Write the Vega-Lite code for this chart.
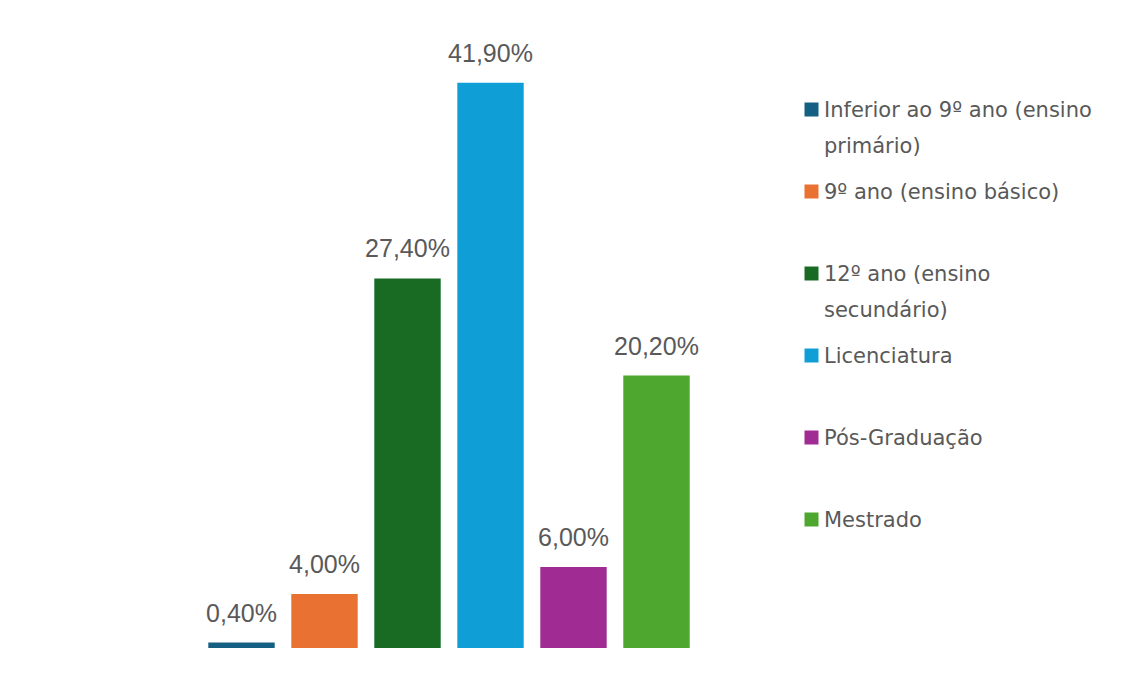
{
  "$schema": "https://vega.github.io/schema/vega-lite/v6.json",
  "width": 498,
  "height": 607,
  "padding": {"left": 200, "top": 41, "right": 0, "bottom": 0},
  "autosize": {"type": "pad"},
  "background": "white",
  "config": {
    "view": {"stroke": null},
    "locale": {"number": {"decimal": ",", "thousands": ".", "grouping": [3], "currency": ["", " €"]}}
  },
  "data": {
    "values": [
      {"nivel": "Inferior ao 9º ano (ensino primário)", "valor": 0.004},
      {"nivel": "9º ano (ensino básico)", "valor": 0.04},
      {"nivel": "12º ano (ensino secundário)", "valor": 0.274},
      {"nivel": "Licenciatura", "valor": 0.419},
      {"nivel": "Pós-Graduação", "valor": 0.06},
      {"nivel": "Mestrado", "valor": 0.202}
    ]
  },
  "encoding": {
    "x": {"field": "nivel", "type": "nominal", "sort": null, "axis": null, "scale": {"paddingInner": 0.2, "paddingOuter": 0.1}},
    "y": {"field": "valor", "type": "quantitative", "axis": null, "scale": {"domain": [0, 0.45]}}
  },
  "layer": [
    {
      "mark": {"type": "bar"},
      "encoding": {
        "color": {
          "field": "nivel",
          "type": "nominal",
          "sort": null,
          "scale": {
            "domain": ["Inferior ao 9º ano (ensino primário)", "9º ano (ensino básico)", "12º ano (ensino secundário)", "Licenciatura", "Pós-Graduação", "Mestrado"],
            "range": ["#156082", "#E97132", "#196B24", "#0F9ED5", "#A02B93", "#4EA72E"]
          },
          "legend": {
            "title": " ",
            "titleFontSize": 1,
            "titlePadding": 55,
            "orient": "right",
            "offset": 101,
            "padding": 2,
            "symbolType": "square",
            "symbolSize": 196,
            "symbolStrokeWidth": 0,
            "labelFont": "DejaVu Sans",
            "labelFontSize": 21,
            "labelColor": "#595959",
            "labelOffset": 2,
            "labelLimit": 400,
            "labelBaseline": "alphabetic",
            "rowPadding": 24,
            "gridAlign": "all",
            "labelExpr": "datum.label == 'Inferior ao 9º ano (ensino primário)' ? ['Inferior ao 9º ano (ensino', 'primário)'] : datum.label == '12º ano (ensino secundário)' ? ['12º ano (ensino', 'secundário)'] : datum.label",
            "encode": {"labels": {"update": {"dy": {"value": 7}, "lineHeight": {"value": 36}}}}
          }
        }
      }
    },
    {
      "mark": {"type": "text", "baseline": "alphabetic", "dy": -21, "font": "Liberation Sans", "fontSize": 25, "color": "#595959"},
      "encoding": {"text": {"field": "valor", "type": "quantitative", "format": ".2%"}}
    }
  ]
}
